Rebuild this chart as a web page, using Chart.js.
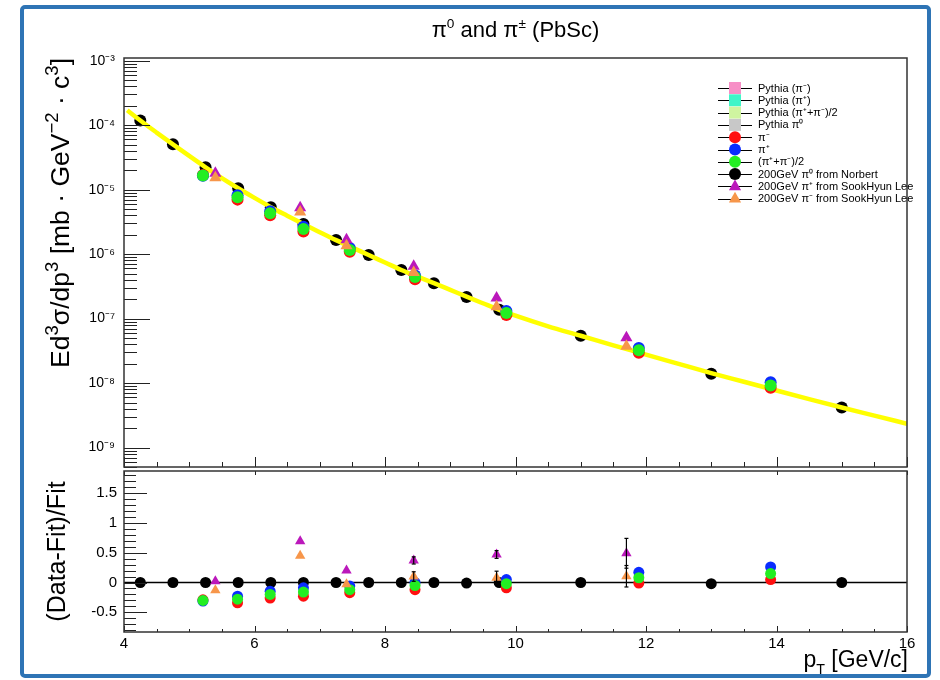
<!DOCTYPE html>
<html><head><meta charset="utf-8">
<script src="https://cdn.jsdelivr.net/npm/chart.js@4.4.1/dist/chart.umd.min.js"></script>
<style>
html,body{margin:0;padding:0;background:#fff;}
#wrap{position:relative;width:940px;height:680px;overflow:hidden;background:#fff;}
canvas{position:absolute;left:0;top:0;}
#frame{position:absolute;left:20px;top:5px;width:903px;height:665px;border:4.5px solid #2e74b5;border-radius:5px;}
</style></head><body>
<div id="wrap"><div id="frame"></div>
<canvas id="topPad" width="940" height="680"></canvas>
<canvas id="botPad" width="940" height="680"></canvas></div>
<script>
const FONT = "'Liberation Sans', Arial, Helvetica, sans-serif";

// ---------- data ----------
const pT_pi0    = [4.25, 4.75, 5.25, 5.75, 6.25, 6.75, 7.25, 7.75, 8.25, 8.75, 9.25, 9.75, 11.0, 13.0, 15.0];
const xsec_pi0  = [1.18e-4, 5.04e-5, 2.22e-5, 1.05e-5, 5.35e-6, 2.92e-6, 1.65e-6, 9.68e-7, 5.68e-7, 3.55e-7, 2.17e-7, 1.37e-7, 5.42e-8, 1.40e-8, 4.18e-9];
const ratio_pi0 = [0, 0, 0, 0, 0, 0, 0, 0, 0, 0, -0.01, 0, 0, -0.02, 0];

const pT_fit   = [4.05, 4.25, 4.5, 4.75, 5.0, 5.25, 5.5, 5.75, 6.0, 6.25, 6.5, 6.75, 7.0, 7.25, 7.5, 7.75, 8.0, 8.25, 8.5, 8.75, 9.0, 9.25, 9.5, 9.75, 10.0, 10.5, 11.0, 11.5, 12.0, 12.5, 13.0, 13.5, 14.0, 14.5, 15.0, 15.5, 16.0];
const xsec_fit = [1.7e-4, 1.18e-4, 7.67e-5, 5.04e-5, 3.33e-5, 2.22e-5, 1.51e-5, 1.05e-5, 7.45e-6, 5.35e-6, 3.94e-6, 2.92e-6, 2.19e-6, 1.65e-6, 1.26e-6, 9.68e-7, 7.41e-7, 5.68e-7, 4.47e-7, 3.55e-7, 2.79e-7, 2.19e-7, 1.73e-7, 1.37e-7, 1.11e-7, 7.59e-8, 5.42e-8, 3.85e-8, 2.77e-8, 1.99e-8, 1.43e-8, 1.05e-8, 7.67e-9, 5.65e-9, 4.18e-9, 3.13e-9, 2.34e-9];
const pT_zero  = [4, 16];
const ratio_zero = [0, 0];

const pT_piCh       = [5.21, 5.74, 6.24, 6.75, 7.46, 8.46, 9.86, 11.89, 13.91];
const xsec_piMinus  = [1.68e-5, 7.0e-6, 4.0e-6, 2.25e-6, 1.09e-6, 4.09e-7, 1.14e-7, 2.95e-8, 8.5e-9];
const xsec_piPlus   = [1.64e-5, 8.16e-6, 4.62e-6, 2.66e-6, 1.24e-6, 4.65e-7, 1.31e-7, 3.49e-8, 1.03e-8];
const xsec_piAvg    = [1.66e-5, 7.63e-6, 4.32e-6, 2.45e-6, 1.16e-6, 4.42e-7, 1.22e-7, 3.22e-8, 9.2e-9];
const ratio_piMinus = [-0.29, -0.34, -0.26, -0.23, -0.17, -0.12, -0.09, -0.01, 0.05];
const ratio_piPlus  = [-0.31, -0.23, -0.145, -0.09, -0.06, 0.0, 0.05, 0.17, 0.26];
const ratio_piAvg   = [-0.30, -0.28, -0.20, -0.16, -0.12, -0.05, -0.02, 0.08, 0.15];

const pT_sh          = [5.4, 6.7, 7.41, 8.44, 9.71, 11.7];
const xsec_shPlus    = [1.80e-5, 5.24e-6, 1.67e-6, 6.48e-7, 2.09e-7, 5.03e-8];
const xsec_shMinus   = [1.53e-5, 4.5e-6, 1.35e-6, 5.2e-7, 1.53e-7, 3.73e-8];
const ratio_shPlus   = [0.02, 0.69, 0.20, 0.37, 0.47, 0.49];
const ratio_shMinus  = [-0.13, 0.45, -0.03, 0.10, 0.08, 0.105];
const err_shPlus     = [0.01, 0.01, 0.01, 0.06, 0.065, 0.25];
const err_shMinus    = [0.01, 0.01, 0.01, 0.08, 0.11, 0.18];

const xTickValues  = [4, 6, 8, 10, 12, 14, 16];
const decadeTicks  = [1e-9, 1e-8, 1e-7, 1e-6, 1e-5, 1e-4, 1e-3];
const ratioTicks   = [-0.5, 0, 0.5, 1, 1.5];

const legendLabels = ['Pythia (π⁻)', 'Pythia (π⁺)', 'Pythia (π⁺+π⁻)/2', 'Pythia π⁰', 'π⁻', 'π⁺', '(π⁺+π⁻)/2',
  '200GeV π⁰ from Norbert', '200GeV π⁺ from SookHyun Lee', '200GeV π⁻ from SookHyun Lee'];
const titleParts = [{t:'π'},{t:'0',sup:true},{t:' and π'},{t:'±',sup:true},{t:' (PbSc)'}];
const xTitleParts = [{t:'p'},{t:'T',sub:true},{t:' [GeV/c]'}];
const yTitleTopParts = [{t:'Ed'},{t:'3',sup:true},{t:'σ/dp'},{t:'3',sup:true},{t:' [mb · GeV'},{t:'−2',sup:true},{t:' · c'},{t:'3',sup:true},{t:']'}];
const yTitleBot = '(Data-Fit)/Fit';

// ---------- styles ----------
const C = {pyM:'#f78fc6', pyP:'#3ff5c8', pyA:'#cff5a0', py0:'#c8c8c8', red:'#ff1010', blue:'#0a2cff', green:'#22ee22',
  black:'#000000', mag:'#bb18bb', orange:'#f7964a', fit:'#ffff00'};

const pts = (xs, ys) => xs.map((x, i) => ({x: x, y: ys[i]}));
const SUP = {'-':'⁻','0':'⁰','1':'¹','2':'²','3':'³','4':'⁴','5':'⁵','6':'⁶','7':'⁷','8':'⁸','9':'⁹'};
const supLabel = v => '10' + String(Math.round(Math.log10(v))).split('').map(c => SUP[c]).join('');

function richText(ctx, parts, x, y, size, align, supScale) {
  const ss = supScale || 0.62;
  const f = s => s + 'px ' + FONT;
  const widths = parts.map(p => { ctx.font = f((p.sup || p.sub) ? size * ss : size); return ctx.measureText(p.t).width; });
  const total = widths.reduce((a, b) => a + b, 0);
  let cx = align === 'center' ? x - total / 2 : align === 'right' ? x - total : x;
  ctx.textAlign = 'left'; ctx.textBaseline = 'alphabetic'; ctx.fillStyle = '#000';
  parts.forEach((p, i) => {
    ctx.font = f((p.sup || p.sub) ? size * ss : size);
    const dy = p.sup ? -size * 0.42 : p.sub ? size * 0.3 : 0;
    ctx.fillText(p.t, cx, y + dy);
    cx += widths[i];
  });
}

function seg(ctx, x1, y1, x2, y2) { ctx.beginPath(); ctx.moveTo(x1, y1); ctx.lineTo(x2, y2); ctx.stroke(); }

function drawMarker(ctx, style, color, x, y, r) {
  ctx.fillStyle = color; ctx.beginPath();
  if (style === 'rect') { ctx.fillRect(x - r, y - r, 2 * r, 2 * r); return; }
  if (style === 'circle') { ctx.arc(x, y, r, 0, Math.PI * 2); }
  else if (style === 'triangle') { ctx.moveTo(x, y - r); ctx.lineTo(x + r * 0.87, y + r * 0.55); ctx.lineTo(x - r * 0.87, y + r * 0.55); ctx.closePath(); }
  ctx.fill();
}

const framePlugin = {
  id: 'rootFrame',
  afterDraw(chart, args, o) {
    const {ctx, chartArea: a, scales} = chart;
    ctx.save();
    ctx.strokeStyle = '#222'; ctx.lineWidth = 1;
    const xs = scales.x, ys = scales.y;
    for (let k = 0; k <= 24; k++) {
      const v = 4 + k * 0.5;
      const px = Math.round(xs.getPixelForValue(v)) + 0.5;
      const major = (k % 4 === 0);
      seg(ctx, px, a.bottom, px, a.bottom - (major ? o.xMajor : o.xMinor));
      if (o.xTop && major) seg(ctx, px, a.top, px, a.top + o.xTop);
    }
    o.yTicks(ys).forEach(t => {
      const py = Math.round(ys.getPixelForValue(t.v)) + 0.5;
      if (py < a.top - 0.5 || py > a.bottom + 0.5) return;
      seg(ctx, a.left, py, a.left + (t.major ? o.yMajor : o.yMinor), py);
    });
    ctx.lineWidth = 1.5; ctx.strokeStyle = '#333';
    ctx.strokeRect(a.left, a.top, a.right - a.left, a.bottom - a.top);
    if (o.title) richText(ctx, titleParts, (a.left + a.right) / 2, 37, 22, 'center');
    if (o.xTitle) richText(ctx, xTitleParts, a.right + 1, 667, 23, 'right');
    if (o.yTitle) {
      ctx.save(); ctx.translate(69, a.top); ctx.rotate(-Math.PI / 2);
      richText(ctx, yTitleTopParts, 0, 0, 26.5, 'right', 0.7);
      ctx.restore();
    }
    if (o.legend) {
      ctx.font = '11px ' + FONT;
      chart.data.datasets.filter(d => d.inLegend).forEach((d, i) => {
        const y = 88 + i * 12.3;
        ctx.strokeStyle = '#000'; ctx.lineWidth = 1;
        seg(ctx, 718, Math.round(y) + 0.5, 752, Math.round(y) + 0.5);
        drawMarker(ctx, d.pointStyle, d.backgroundColor, 735, y, d.pointStyle === 'triangle' ? 7 : 6);
        ctx.fillStyle = '#000'; ctx.textAlign = 'left'; ctx.textBaseline = 'middle';
        ctx.fillText(d.label, 758, y + 0.5);
      });
    }
    ctx.restore();
  },
  afterDatasetsDraw(chart) {
    const {ctx, scales} = chart;
    ctx.save(); ctx.strokeStyle = '#000'; ctx.lineWidth = 1.2;
    chart.data.datasets.forEach(d => {
      if (!d.errs) return;
      d.data.forEach((p, i) => {
        const e = d.errs[i]; if (!e || e < 0.03) return;
        const x = scales.x.getPixelForValue(p.x);
        const y1 = scales.y.getPixelForValue(p.y - e), y2 = scales.y.getPixelForValue(p.y + e);
        seg(ctx, x, y1, x, y2); seg(ctx, x - 2, y1, x + 2, y1); seg(ctx, x - 2, y2, x + 2, y2);
      });
    });
    ctx.restore();
  }
};
Chart.register(framePlugin);

function ds(label, xs, ys, color, style, r, order, extra) {
  return Object.assign({label: label, data: pts(xs, ys), backgroundColor: color, borderColor: color, borderWidth: 0,
    pointStyle: style, pointRadius: r, pointHoverRadius: r, order: order, inLegend: true}, extra || {});
}

// ---------- top pad ----------
new Chart(document.getElementById('topPad'), {
  type: 'scatter',
  data: {datasets: [
    ds(legendLabels[0], [], [], C.pyM, 'rect', 6, 9),
    ds(legendLabels[1], [], [], C.pyP, 'rect', 6, 9),
    ds(legendLabels[2], [], [], C.pyA, 'rect', 6, 9),
    ds(legendLabels[3], [], [], C.py0, 'rect', 6, 9),
    ds(legendLabels[4], pT_piCh, xsec_piMinus, C.red, 'circle', 6, 5),
    ds(legendLabels[5], pT_piCh, xsec_piPlus, C.blue, 'circle', 6, 4),
    ds(legendLabels[6], pT_piCh, xsec_piAvg, C.green, 'circle', 6, 3),
    ds(legendLabels[7], pT_pi0, xsec_pi0, C.black, 'circle', 6, 7),
    ds(legendLabels[8], pT_sh, xsec_shPlus, C.mag, 'triangle', 7, 2),
    ds(legendLabels[9], pT_sh, xsec_shMinus, C.orange, 'triangle', 7, 1),
    {label: 'fit', type: 'line', data: pts(pT_fit, xsec_fit), showLine: true, borderColor: C.fit, backgroundColor: C.fit,
     borderWidth: 4.5, pointRadius: 0, cubicInterpolationMode: 'monotone', order: 6, inLegend: false}
  ]},
  options: {
    responsive: false, animation: false, devicePixelRatio: 1,
    layout: {padding: {left: 0, top: 58, right: 33, bottom: 213}},
    plugins: {legend: {display: false}, tooltip: {enabled: false},
      rootFrame: {xMajor: 10, xMinor: 5, yMajor: 26, yMinor: 13, title: true, legend: true, yTitle: true,
        yTicks: s => { const t = []; for (let e = -10; e <= -3; e++) for (let m = 1; m <= 9; m++) t.push({v: m * Math.pow(10, e), major: m === 1}); return t; }}},
    scales: {
      x: {type: 'linear', min: 4, max: 16, display: false},
      y: {type: 'logarithmic', min: 5e-10, max: 1.1e-3,
        afterBuildTicks: s => { s.ticks = decadeTicks.map(v => ({value: v})); },
        afterFit: s => { s.width = 124; },
        grid: {display: false, drawTicks: false}, border: {display: false},
        ticks: {callback: v => supLabel(v), font: {size: 14, family: FONT}, color: '#000', padding: 9, autoSkip: false},
        title: {display: false}
      }
    }
  }
});

// ---------- ratio pad ----------
new Chart(document.getElementById('botPad'), {
  type: 'scatter',
  data: {datasets: [
    {label: 'zero', type: 'line', data: pts(pT_zero, ratio_zero), showLine: true, borderColor: '#000', borderWidth: 1.5, pointRadius: 0, order: 10},
    ds(legendLabels[7], pT_pi0, ratio_pi0, C.black, 'circle', 5.5, 7),
    ds(legendLabels[4], pT_piCh, ratio_piMinus, C.red, 'circle', 5.5, 5),
    ds(legendLabels[5], pT_piCh, ratio_piPlus, C.blue, 'circle', 5.5, 4),
    ds(legendLabels[6], pT_piCh, ratio_piAvg, C.green, 'circle', 5.5, 3),
    ds(legendLabels[8], pT_sh, ratio_shPlus, C.mag, 'triangle', 6, 2, {errs: err_shPlus}),
    ds(legendLabels[9], pT_sh, ratio_shMinus, C.orange, 'triangle', 6, 1, {errs: err_shMinus})
  ]},
  options: {
    responsive: false, animation: false, devicePixelRatio: 1,
    layout: {padding: {left: 0, top: 471, right: 33, bottom: 0}},
    plugins: {legend: {display: false}, tooltip: {enabled: false},
      rootFrame: {xMajor: 6, xMinor: 3, xTop: 4, yMajor: 23, yMinor: 12, xTitle: true,
        yTicks: s => { const t = []; for (let k = -8; k <= 18; k++) t.push({v: k / 10, major: k % 5 === 0}); return t; }}},
    scales: {
      x: {type: 'linear', min: 4, max: 16,
        afterBuildTicks: s => { s.ticks = xTickValues.map(v => ({value: v})); },
        afterFit: s => { s.height = 48; },
        grid: {display: false, drawTicks: false}, border: {display: false},
        ticks: {font: {size: 15, family: FONT}, color: '#000', padding: 3, autoSkip: false, maxRotation: 0}},
      y: {type: 'linear', min: -0.83, max: 1.87,
        afterBuildTicks: s => { s.ticks = ratioTicks.map(v => ({value: v})); },
        afterFit: s => { s.width = 124; },
        grid: {display: false, drawTicks: false}, border: {display: false},
        ticks: {callback: v => String(v), font: {size: 15, family: FONT}, color: '#000', padding: 7, autoSkip: false},
        title: {display: true, text: yTitleBot, align: 'center', color: '#000', font: {size: 25, family: FONT}, padding: {top: 43, bottom: 0}}
      }
    }
  }
});
</script></body></html>
